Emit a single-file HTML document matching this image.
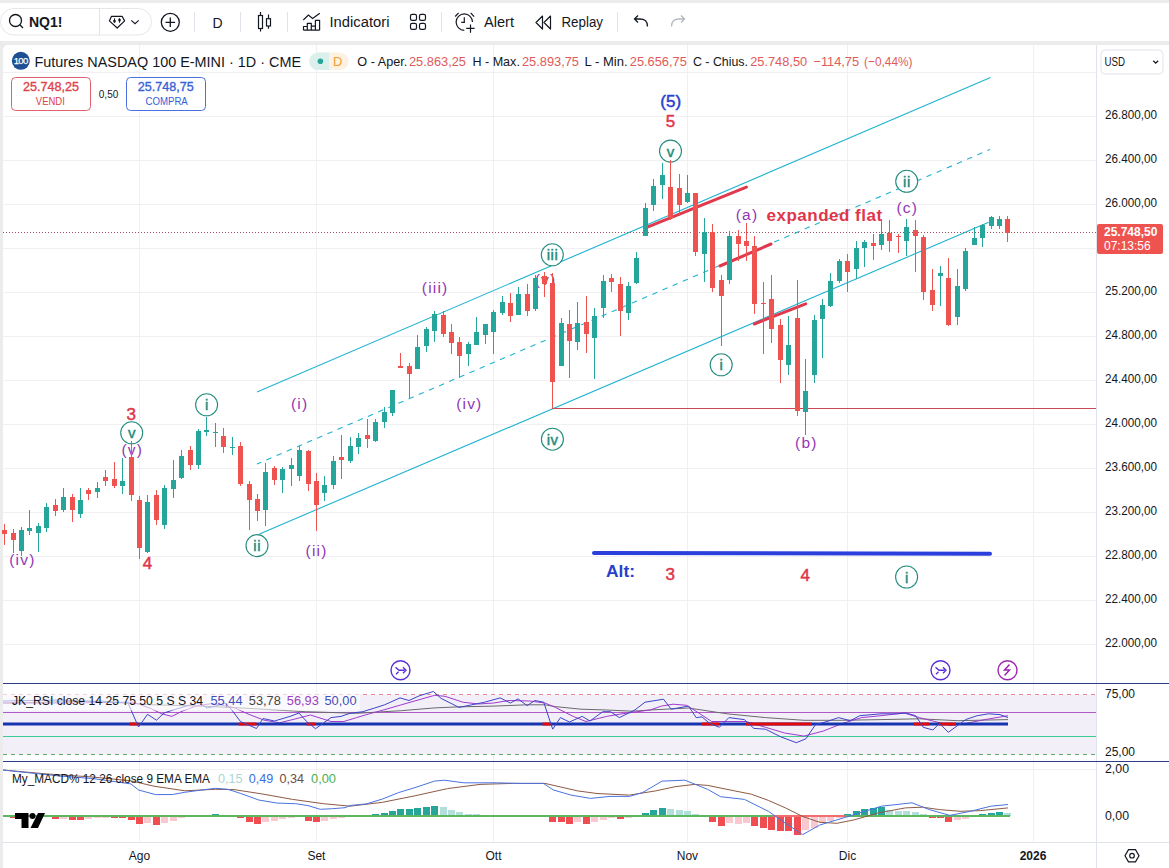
<!DOCTYPE html><html><head><meta charset="utf-8"><style>
html,body{margin:0;padding:0;width:1169px;height:868px;overflow:hidden;background:#ececec;}
svg{position:absolute;left:0;top:0;display:block;}
text{font-family:"Liberation Sans", sans-serif;}
</style></head><body>
<svg width="1169" height="868" viewBox="0 0 1169 868">
<rect x="0" y="0" width="1169" height="868" fill="#ececec"/>
<rect x="0" y="3" width="1169" height="38" fill="#ffffff"/>
<rect x="3" y="45" width="1166" height="833" rx="5" fill="#ffffff"/>
<rect x="0.5" y="8.5" width="151" height="26.5" rx="13.25" fill="#ffffff" stroke="#e6e6e6" stroke-width="1"/>
<line x1="99.5" y1="8" x2="99.5" y2="35" stroke="#e0e3eb"/>
<circle cx="15.5" cy="20.5" r="6" fill="none" stroke="#131722" stroke-width="1.3"/>
<line x1="19.8" y1="24.8" x2="23" y2="28" stroke="#131722" stroke-width="1.3"/>
<text x="29" y="27" font-size="14" font-weight="bold" fill="#131722">NQ1!</text>
<path d="M111.5 16.3 L122.1 16.3 L124.6 20.9 L117.2 28 L109.4 20.9 Z" fill="none" stroke="#131722" stroke-width="1.2" stroke-linejoin="round"/>
<path d="M114.5 18.2 v4.6 M119.5 18.2 v4.6" stroke="#131722" stroke-width="0.9"/><ellipse cx="114.5" cy="21" rx="1.3" ry="1.5" fill="#131722"/><ellipse cx="119.5" cy="20" rx="1.3" ry="1.5" fill="#131722"/>
<path d="M131.3 20.3 l3.7 3.4 l3.7 -3.4" fill="none" stroke="#131722" stroke-width="1.1"/>
<circle cx="170.3" cy="22.3" r="9" fill="none" stroke="#131722" stroke-width="1.3"/>
<path d="M170.3 17.5 v9.6 M165.5 22.3 h9.6" stroke="#131722" stroke-width="1.3"/>
<line x1="194.5" y1="12" x2="194.5" y2="32" stroke="#e0e3eb"/>
<line x1="240.5" y1="12" x2="240.5" y2="32" stroke="#e0e3eb"/>
<line x1="287.5" y1="12" x2="287.5" y2="32" stroke="#e0e3eb"/>
<line x1="441.5" y1="12" x2="441.5" y2="32" stroke="#e0e3eb"/>
<line x1="617.5" y1="12" x2="617.5" y2="32" stroke="#e0e3eb"/>
<text x="217.5" y="27.5" font-size="14" fill="#131722" text-anchor="middle">D</text>
<path d="M260.5 12 v3.5 M260.5 28.5 v3 M268.5 14.5 v4.2 M268.5 26 v2.8" stroke="#131722" stroke-width="1.2"/>
<rect x="258.5" y="15.5" width="4" height="13" fill="none" stroke="#131722" stroke-width="1.2"/>
<rect x="266.5" y="18.7" width="4" height="7.3" fill="none" stroke="#131722" stroke-width="1.2"/>
<path d="M303.3 20 L308.4 15 L312.6 18.5 L319.8 13.2" fill="none" stroke="#131722" stroke-width="1.2"/>
<path d="M303.5 30.2 V26.5 H307.3 V30.2 M307.3 30.2 V23.4 H311.3 V30.2 M311.3 30.2 V26.1 H315.4 V30.2 M315.4 30.2 V20.3 H319.6 V30.2 M303.5 30.2 H319.6" fill="none" stroke="#131722" stroke-width="1.2" stroke-linejoin="round"/>
<text x="329.5" y="27" font-size="14" fill="#131722" textLength="60" lengthAdjust="spacingAndGlyphs">Indicatori</text>
<rect x="410.5" y="14.4" width="6" height="6" rx="1.6" fill="none" stroke="#131722" stroke-width="1.2"/>
<rect x="419.5" y="14.4" width="6" height="6" rx="1.6" fill="none" stroke="#131722" stroke-width="1.2"/>
<rect x="410.5" y="23.3" width="6" height="6" rx="1.6" fill="none" stroke="#131722" stroke-width="1.2"/>
<rect x="419.5" y="23.3" width="6" height="6" rx="1.6" fill="none" stroke="#131722" stroke-width="1.2"/>
<path d="M464.3 30.3 A8.2 8.2 0 1 1 472.5 22.1" fill="none" stroke="#131722" stroke-width="1.2"/>
<path d="M464.3 17.3 v5.1 h-3 M455.2 16.5 l3.4 -3.7 M470.7 12.8 l3.4 3.8 M470.5 24.5 v8.2 M466.2 28.3 h8.4" fill="none" stroke="#131722" stroke-width="1.2"/>
<text x="484" y="27" font-size="14" fill="#131722" textLength="30" lengthAdjust="spacingAndGlyphs">Alert</text>
<path d="M542.5 16 l-6.5 6.5 l6.5 6.5 Z M550.5 16 l-6.5 6.5 l6.5 6.5 Z" fill="none" stroke="#131722" stroke-width="1.2" stroke-linejoin="round"/>
<text x="561.5" y="27" font-size="14" fill="#131722" textLength="41.5" lengthAdjust="spacingAndGlyphs">Replay</text>
<path d="M647.5 26.5 c0 -6 -3 -7.5 -8 -7.5 h-5 M638 15.5 l-3.5 3.5 l3.5 3.5" fill="none" stroke="#131722" stroke-width="1.3"/>
<path d="M671.5 26.5 c0 -6 3 -7.5 8 -7.5 h5 M681 15.5 l3.5 3.5 l-3.5 3.5" fill="none" stroke="#b2b5be" stroke-width="1.3"/>
<line x1="3" y1="72.5" x2="1096" y2="72.5" stroke="#f0f0f3"/>
<line x1="3" y1="116.5" x2="1096" y2="116.5" stroke="#f0f0f3"/>
<line x1="3" y1="160.5" x2="1096" y2="160.5" stroke="#f0f0f3"/>
<line x1="3" y1="204.5" x2="1096" y2="204.5" stroke="#f0f0f3"/>
<line x1="3" y1="248.5" x2="1096" y2="248.5" stroke="#f0f0f3"/>
<line x1="3" y1="292.5" x2="1096" y2="292.5" stroke="#f0f0f3"/>
<line x1="3" y1="336.5" x2="1096" y2="336.5" stroke="#f0f0f3"/>
<line x1="3" y1="380.5" x2="1096" y2="380.5" stroke="#f0f0f3"/>
<line x1="3" y1="424.5" x2="1096" y2="424.5" stroke="#f0f0f3"/>
<line x1="3" y1="468.5" x2="1096" y2="468.5" stroke="#f0f0f3"/>
<line x1="3" y1="512.5" x2="1096" y2="512.5" stroke="#f0f0f3"/>
<line x1="3" y1="556.5" x2="1096" y2="556.5" stroke="#f0f0f3"/>
<line x1="3" y1="600.5" x2="1096" y2="600.5" stroke="#f0f0f3"/>
<line x1="3" y1="644.5" x2="1096" y2="644.5" stroke="#f0f0f3"/>
<line x1="139.5" y1="45" x2="139.5" y2="842" stroke="#f0f0f3"/>
<line x1="316.5" y1="45" x2="316.5" y2="842" stroke="#f0f0f3"/>
<line x1="493.5" y1="45" x2="493.5" y2="842" stroke="#f0f0f3"/>
<line x1="687.5" y1="45" x2="687.5" y2="842" stroke="#f0f0f3"/>
<line x1="847.5" y1="45" x2="847.5" y2="842" stroke="#f0f0f3"/>
<line x1="1033.5" y1="45" x2="1033.5" y2="842" stroke="#f0f0f3"/>
<line x1="3" y1="769.5" x2="1096" y2="769.5" stroke="#f0f0f3"/>
<rect x="3" y="694.5" width="1093" height="60" fill="#f2eff9"/>
<line x1="257" y1="392" x2="990.5" y2="77.5" stroke="#1fb3d2" stroke-width="1.1"/>
<line x1="259.5" y1="534" x2="988.7" y2="222.3" stroke="#1fb3d2" stroke-width="1.1"/>
<line x1="257" y1="464" x2="990" y2="149.5" stroke="#1fb3d2" stroke-width="1.1" stroke-dasharray="5.5,5.55" stroke-dashoffset="0.8"/>
<line x1="552" y1="408.5" x2="1096" y2="408.5" stroke="#c84a55" stroke-width="1"/>
<line x1="3" y1="232.5" x2="1096" y2="232.5" stroke="#a04e5c" stroke-width="1" stroke-dasharray="1,2"/>
<line x1="647.3" y1="227.2" x2="746.4" y2="187.1" stroke="#e0394d" stroke-width="3" stroke-linecap="round"/>
<line x1="719.9" y1="266.0" x2="771.0" y2="244.0" stroke="#e0394d" stroke-width="3" stroke-linecap="round"/>
<line x1="754.3" y1="324.0" x2="805.7" y2="303.8" stroke="#e0394d" stroke-width="3" stroke-linecap="round"/>
<line x1="594" y1="553" x2="990" y2="553.8" stroke="#2a3fdc" stroke-width="4" stroke-linecap="round"/>
<text x="670.7" y="106.5" font-size="17"  fill="#2a3fcc" stroke="#2a3fcc" stroke-width="0.5" text-anchor="middle">(5)</text>
<text x="670.4" y="126.8" font-size="17"  fill="#e0364b" stroke="#e0364b" stroke-width="0.5" text-anchor="middle">5</text>
<circle cx="670.5" cy="151.1" r="11" fill="#ffffff" stroke="#238c7d" stroke-width="1.1"/>
<text x="670.8" y="156.6" font-size="15" fill="#238c7d" stroke="#238c7d" stroke-width="0.45" text-anchor="middle" letter-spacing="0.6">v</text>
<text x="131.2" y="419.5" font-size="17"  fill="#e0364b" stroke="#e0364b" stroke-width="0.5" text-anchor="middle">3</text>
<circle cx="131.7" cy="432.8" r="11" fill="#ffffff" stroke="#238c7d" stroke-width="1.1"/>
<text x="132.0" y="438.3" font-size="15" fill="#238c7d" stroke="#238c7d" stroke-width="0.45" text-anchor="middle" letter-spacing="0.6">v</text>
<text x="132.3" y="455.0" font-size="15.5" fill="#9038b5" text-anchor="middle" letter-spacing="1.2">(v)</text>
<text x="147.6" y="568.5" font-size="17"  fill="#e0364b" stroke="#e0364b" stroke-width="0.5" text-anchor="middle">4</text>
<circle cx="206.6" cy="404.8" r="11" fill="#ffffff" stroke="#238c7d" stroke-width="1.1"/>
<text x="206.9" y="410.3" font-size="15" fill="#238c7d" stroke="#238c7d" stroke-width="0.45" text-anchor="middle" letter-spacing="0.6">i</text>
<text x="299.6" y="409.0" font-size="15.5" fill="#9038b5" text-anchor="middle" letter-spacing="1.2">(i)</text>
<circle cx="257.0" cy="545.6" r="11" fill="#ffffff" stroke="#238c7d" stroke-width="1.1"/>
<text x="257.3" y="551.1" font-size="15" fill="#238c7d" stroke="#238c7d" stroke-width="0.45" text-anchor="middle" letter-spacing="0.6">ii</text>
<text x="316.6" y="556.3" font-size="15.5" fill="#9038b5" text-anchor="middle" letter-spacing="1.2">(ii)</text>
<text x="435.1" y="293.0" font-size="15.5" fill="#9038b5" text-anchor="middle" letter-spacing="1.2">(iii)</text>
<text x="469.3" y="409.0" font-size="15.5" fill="#9038b5" text-anchor="middle" letter-spacing="1.2">(iv)</text>
<text x="22.4" y="565.0" font-size="15.5" fill="#9038b5" text-anchor="middle" letter-spacing="1.2">(iv)</text>
<circle cx="552.3" cy="254.8" r="11" fill="#ffffff" stroke="#238c7d" stroke-width="1.1"/>
<text x="552.6" y="260.3" font-size="15" fill="#238c7d" stroke="#238c7d" stroke-width="0.45" text-anchor="middle" letter-spacing="0.6">iii</text>
<circle cx="552.4" cy="439.2" r="11" fill="#ffffff" stroke="#238c7d" stroke-width="1.1"/>
<text x="552.7" y="444.7" font-size="15" fill="#238c7d" stroke="#238c7d" stroke-width="0.45" text-anchor="middle" letter-spacing="0.6">iv</text>
<circle cx="721.2" cy="364.8" r="11" fill="#ffffff" stroke="#238c7d" stroke-width="1.1"/>
<text x="721.5" y="370.3" font-size="15" fill="#238c7d" stroke="#238c7d" stroke-width="0.45" text-anchor="middle" letter-spacing="0.6">i</text>
<text x="747.0" y="219.5" font-size="15.5" fill="#9038b5" text-anchor="middle" letter-spacing="1.2">(a)</text>
<text x="766.5" y="221.3" font-size="17" font-weight="bold" letter-spacing="0.5" fill="#e0364b">expanded flat</text>
<circle cx="906.7" cy="181.3" r="11" fill="#ffffff" stroke="#238c7d" stroke-width="1.1"/>
<text x="907.0" y="186.8" font-size="15" fill="#238c7d" stroke="#238c7d" stroke-width="0.45" text-anchor="middle" letter-spacing="0.6">ii</text>
<text x="907.3" y="213.0" font-size="15.5" fill="#9038b5" text-anchor="middle" letter-spacing="1.2">(c)</text>
<text x="806.3" y="447.5" font-size="15.5" fill="#9038b5" text-anchor="middle" letter-spacing="1.2">(b)</text>
<text x="606" y="577" font-size="17" font-weight="bold" fill="#2a3fcc" textLength="29" lengthAdjust="spacingAndGlyphs">Alt:</text>
<text x="670.3" y="579.5" font-size="17"  fill="#e0364b" stroke="#e0364b" stroke-width="0.5" text-anchor="middle">3</text>
<text x="805.2" y="581.0" font-size="17"  fill="#e0364b" stroke="#e0364b" stroke-width="0.5" text-anchor="middle">4</text>
<circle cx="906.6" cy="577.0" r="11" fill="#ffffff" stroke="#238c7d" stroke-width="1.1"/>
<text x="906.9" y="582.5" font-size="15" fill="#238c7d" stroke="#238c7d" stroke-width="0.45" text-anchor="middle" letter-spacing="0.6">i</text>
<text x="545.6" y="285.0" font-size="15.5" fill="#9038b5" text-anchor="middle" letter-spacing="1.2">(v)</text>
<g shape-rendering="crispEdges">
<rect x="4" y="524" width="1" height="21" fill="#ef5350"/>
<rect x="2" y="530" width="5" height="4" fill="#ef5350"/>
<rect x="13" y="529" width="1" height="24" fill="#ef5350"/>
<rect x="11" y="533" width="5" height="7" fill="#ef5350"/>
<rect x="21" y="527" width="1" height="29" fill="#26a69a"/>
<rect x="19" y="530" width="5" height="21" fill="#26a69a"/>
<rect x="29" y="510" width="1" height="25" fill="#26a69a"/>
<rect x="27" y="528" width="5" height="3" fill="#26a69a"/>
<rect x="38" y="523" width="1" height="29" fill="#26a69a"/>
<rect x="36" y="526" width="5" height="7" fill="#26a69a"/>
<rect x="46" y="503" width="1" height="29" fill="#26a69a"/>
<rect x="44" y="507" width="5" height="21" fill="#26a69a"/>
<rect x="55" y="499" width="1" height="17" fill="#ef5350"/>
<rect x="53" y="505" width="5" height="6" fill="#ef5350"/>
<rect x="63" y="488" width="1" height="24" fill="#26a69a"/>
<rect x="61" y="497" width="5" height="13" fill="#26a69a"/>
<rect x="72" y="494" width="1" height="28" fill="#ef5350"/>
<rect x="70" y="497" width="5" height="13" fill="#ef5350"/>
<rect x="80" y="488" width="1" height="30" fill="#26a69a"/>
<rect x="78" y="500" width="5" height="14" fill="#26a69a"/>
<rect x="88" y="488" width="1" height="12" fill="#ef5350"/>
<rect x="86" y="490" width="5" height="4" fill="#ef5350"/>
<rect x="97" y="482" width="1" height="16" fill="#26a69a"/>
<rect x="95" y="488" width="5" height="4" fill="#26a69a"/>
<rect x="105" y="470" width="1" height="16" fill="#ef5350"/>
<rect x="103" y="477" width="5" height="4" fill="#ef5350"/>
<rect x="114" y="462" width="1" height="26" fill="#ef5350"/>
<rect x="112" y="479" width="5" height="7" fill="#ef5350"/>
<rect x="122" y="458" width="1" height="36" fill="#26a69a"/>
<rect x="120" y="481" width="5" height="5" fill="#26a69a"/>
<rect x="131" y="441" width="1" height="60" fill="#ef5350"/>
<rect x="129" y="457" width="5" height="38" fill="#ef5350"/>
<rect x="139" y="496" width="1" height="63" fill="#ef5350"/>
<rect x="137" y="500" width="5" height="48" fill="#ef5350"/>
<rect x="147" y="495" width="1" height="58" fill="#26a69a"/>
<rect x="145" y="502" width="5" height="50" fill="#26a69a"/>
<rect x="156" y="490" width="1" height="35" fill="#ef5350"/>
<rect x="154" y="495" width="5" height="25" fill="#ef5350"/>
<rect x="164" y="485" width="1" height="44" fill="#26a69a"/>
<rect x="162" y="488" width="5" height="37" fill="#26a69a"/>
<rect x="173" y="460" width="1" height="38" fill="#26a69a"/>
<rect x="171" y="480" width="5" height="9" fill="#26a69a"/>
<rect x="181" y="450" width="1" height="29" fill="#26a69a"/>
<rect x="179" y="456" width="5" height="22" fill="#26a69a"/>
<rect x="190" y="446" width="1" height="24" fill="#ef5350"/>
<rect x="188" y="450" width="5" height="15" fill="#ef5350"/>
<rect x="198" y="429" width="1" height="40" fill="#26a69a"/>
<rect x="196" y="431" width="5" height="34" fill="#26a69a"/>
<rect x="206" y="417" width="1" height="19" fill="#26a69a"/>
<rect x="204" y="430" width="5" height="2" fill="#26a69a"/>
<rect x="215" y="423" width="1" height="24" fill="#26a69a"/>
<rect x="213" y="432" width="5" height="1" fill="#26a69a"/>
<rect x="223" y="428" width="1" height="25" fill="#ef5350"/>
<rect x="221" y="436" width="5" height="11" fill="#ef5350"/>
<rect x="232" y="437" width="1" height="18" fill="#26a69a"/>
<rect x="230" y="447" width="5" height="1" fill="#26a69a"/>
<rect x="240" y="442" width="1" height="44" fill="#ef5350"/>
<rect x="238" y="446" width="5" height="38" fill="#ef5350"/>
<rect x="249" y="481" width="1" height="49" fill="#ef5350"/>
<rect x="247" y="484" width="5" height="16" fill="#ef5350"/>
<rect x="257" y="494" width="1" height="27" fill="#ef5350"/>
<rect x="255" y="499" width="5" height="12" fill="#ef5350"/>
<rect x="265" y="463" width="1" height="63" fill="#26a69a"/>
<rect x="263" y="472" width="5" height="38" fill="#26a69a"/>
<rect x="274" y="466" width="1" height="19" fill="#ef5350"/>
<rect x="272" y="468" width="5" height="12" fill="#ef5350"/>
<rect x="282" y="467" width="1" height="26" fill="#26a69a"/>
<rect x="280" y="469" width="5" height="11" fill="#26a69a"/>
<rect x="291" y="458" width="1" height="28" fill="#26a69a"/>
<rect x="289" y="465" width="5" height="4" fill="#26a69a"/>
<rect x="299" y="446" width="1" height="35" fill="#26a69a"/>
<rect x="297" y="450" width="5" height="26" fill="#26a69a"/>
<rect x="308" y="450" width="1" height="41" fill="#ef5350"/>
<rect x="306" y="451" width="5" height="33" fill="#ef5350"/>
<rect x="316" y="473" width="1" height="58" fill="#ef5350"/>
<rect x="314" y="481" width="5" height="24" fill="#ef5350"/>
<rect x="324" y="476" width="1" height="25" fill="#26a69a"/>
<rect x="322" y="485" width="5" height="8" fill="#26a69a"/>
<rect x="333" y="456" width="1" height="33" fill="#26a69a"/>
<rect x="331" y="461" width="5" height="24" fill="#26a69a"/>
<rect x="341" y="435" width="1" height="44" fill="#ef5350"/>
<rect x="339" y="457" width="5" height="3" fill="#ef5350"/>
<rect x="350" y="437" width="1" height="26" fill="#26a69a"/>
<rect x="348" y="446" width="5" height="15" fill="#26a69a"/>
<rect x="358" y="433" width="1" height="21" fill="#26a69a"/>
<rect x="356" y="438" width="5" height="9" fill="#26a69a"/>
<rect x="367" y="419" width="1" height="29" fill="#ef5350"/>
<rect x="365" y="435" width="5" height="4" fill="#ef5350"/>
<rect x="375" y="419" width="1" height="23" fill="#26a69a"/>
<rect x="373" y="422" width="5" height="19" fill="#26a69a"/>
<rect x="384" y="407" width="1" height="21" fill="#26a69a"/>
<rect x="382" y="412" width="5" height="10" fill="#26a69a"/>
<rect x="392" y="390" width="1" height="26" fill="#26a69a"/>
<rect x="390" y="390" width="5" height="23" fill="#26a69a"/>
<rect x="400" y="353" width="1" height="15" fill="#ef5350"/>
<rect x="398" y="366" width="5" height="2" fill="#ef5350"/>
<rect x="409" y="363" width="1" height="35" fill="#ef5350"/>
<rect x="407" y="366" width="5" height="8" fill="#ef5350"/>
<rect x="417" y="335" width="1" height="34" fill="#26a69a"/>
<rect x="415" y="347" width="5" height="22" fill="#26a69a"/>
<rect x="426" y="327" width="1" height="25" fill="#26a69a"/>
<rect x="424" y="329" width="5" height="17" fill="#26a69a"/>
<rect x="434" y="311" width="1" height="31" fill="#26a69a"/>
<rect x="432" y="314" width="5" height="17" fill="#26a69a"/>
<rect x="443" y="311" width="1" height="26" fill="#ef5350"/>
<rect x="441" y="315" width="5" height="19" fill="#ef5350"/>
<rect x="451" y="324" width="1" height="30" fill="#ef5350"/>
<rect x="449" y="332" width="5" height="11" fill="#ef5350"/>
<rect x="459" y="337" width="1" height="41" fill="#ef5350"/>
<rect x="457" y="342" width="5" height="14" fill="#ef5350"/>
<rect x="468" y="342" width="1" height="24" fill="#26a69a"/>
<rect x="466" y="344" width="5" height="10" fill="#26a69a"/>
<rect x="476" y="317" width="1" height="28" fill="#26a69a"/>
<rect x="474" y="332" width="5" height="13" fill="#26a69a"/>
<rect x="485" y="324" width="1" height="20" fill="#26a69a"/>
<rect x="483" y="324" width="5" height="11" fill="#26a69a"/>
<rect x="493" y="310" width="1" height="44" fill="#26a69a"/>
<rect x="491" y="312" width="5" height="20" fill="#26a69a"/>
<rect x="502" y="296" width="1" height="19" fill="#26a69a"/>
<rect x="500" y="302" width="5" height="11" fill="#26a69a"/>
<rect x="510" y="293" width="1" height="29" fill="#ef5350"/>
<rect x="508" y="303" width="5" height="13" fill="#ef5350"/>
<rect x="518" y="287" width="1" height="27" fill="#26a69a"/>
<rect x="516" y="294" width="5" height="21" fill="#26a69a"/>
<rect x="527" y="284" width="1" height="32" fill="#ef5350"/>
<rect x="525" y="294" width="5" height="17" fill="#ef5350"/>
<rect x="535" y="275" width="1" height="36" fill="#26a69a"/>
<rect x="533" y="278" width="5" height="31" fill="#26a69a"/>
<rect x="544" y="272" width="1" height="25" fill="#ef5350"/>
<rect x="542" y="276" width="5" height="8" fill="#ef5350"/>
<rect x="552" y="273" width="1" height="135" fill="#ef5350"/>
<rect x="550" y="283" width="5" height="99" fill="#ef5350"/>
<rect x="561" y="318" width="1" height="48" fill="#26a69a"/>
<rect x="559" y="323" width="5" height="43" fill="#26a69a"/>
<rect x="569" y="310" width="1" height="68" fill="#ef5350"/>
<rect x="567" y="324" width="5" height="17" fill="#ef5350"/>
<rect x="577" y="302" width="1" height="48" fill="#26a69a"/>
<rect x="575" y="323" width="5" height="19" fill="#26a69a"/>
<rect x="586" y="296" width="1" height="57" fill="#ef5350"/>
<rect x="584" y="322" width="5" height="12" fill="#ef5350"/>
<rect x="594" y="308" width="1" height="71" fill="#26a69a"/>
<rect x="592" y="316" width="5" height="22" fill="#26a69a"/>
<rect x="603" y="275" width="1" height="43" fill="#26a69a"/>
<rect x="601" y="281" width="5" height="27" fill="#26a69a"/>
<rect x="611" y="274" width="1" height="18" fill="#ef5350"/>
<rect x="609" y="278" width="5" height="4" fill="#ef5350"/>
<rect x="620" y="277" width="1" height="59" fill="#ef5350"/>
<rect x="618" y="284" width="5" height="27" fill="#ef5350"/>
<rect x="628" y="282" width="1" height="38" fill="#26a69a"/>
<rect x="626" y="286" width="5" height="27" fill="#26a69a"/>
<rect x="636" y="252" width="1" height="32" fill="#26a69a"/>
<rect x="634" y="258" width="5" height="25" fill="#26a69a"/>
<rect x="645" y="203" width="1" height="33" fill="#26a69a"/>
<rect x="643" y="208" width="5" height="28" fill="#26a69a"/>
<rect x="653" y="179" width="1" height="32" fill="#26a69a"/>
<rect x="651" y="186" width="5" height="19" fill="#26a69a"/>
<rect x="662" y="163" width="1" height="36" fill="#26a69a"/>
<rect x="660" y="175" width="5" height="10" fill="#26a69a"/>
<rect x="670" y="160" width="1" height="60" fill="#ef5350"/>
<rect x="668" y="187" width="5" height="31" fill="#ef5350"/>
<rect x="679" y="174" width="1" height="42" fill="#ef5350"/>
<rect x="677" y="188" width="5" height="17" fill="#ef5350"/>
<rect x="687" y="175" width="1" height="28" fill="#26a69a"/>
<rect x="685" y="193" width="5" height="9" fill="#26a69a"/>
<rect x="695" y="193" width="1" height="63" fill="#ef5350"/>
<rect x="693" y="193" width="5" height="59" fill="#ef5350"/>
<rect x="704" y="218" width="1" height="64" fill="#26a69a"/>
<rect x="702" y="232" width="5" height="22" fill="#26a69a"/>
<rect x="712" y="224" width="1" height="68" fill="#ef5350"/>
<rect x="710" y="232" width="5" height="56" fill="#ef5350"/>
<rect x="721" y="275" width="1" height="71" fill="#ef5350"/>
<rect x="719" y="280" width="5" height="16" fill="#ef5350"/>
<rect x="729" y="231" width="1" height="53" fill="#26a69a"/>
<rect x="727" y="236" width="5" height="44" fill="#26a69a"/>
<rect x="738" y="230" width="1" height="31" fill="#ef5350"/>
<rect x="736" y="236" width="5" height="8" fill="#ef5350"/>
<rect x="746" y="223" width="1" height="38" fill="#ef5350"/>
<rect x="744" y="241" width="5" height="5" fill="#ef5350"/>
<rect x="754" y="236" width="1" height="78" fill="#ef5350"/>
<rect x="752" y="246" width="5" height="58" fill="#ef5350"/>
<rect x="763" y="282" width="1" height="72" fill="#ef5350"/>
<rect x="761" y="303" width="5" height="1" fill="#ef5350"/>
<rect x="771" y="275" width="1" height="68" fill="#ef5350"/>
<rect x="769" y="299" width="5" height="30" fill="#ef5350"/>
<rect x="780" y="319" width="1" height="64" fill="#ef5350"/>
<rect x="778" y="325" width="5" height="35" fill="#ef5350"/>
<rect x="788" y="316" width="1" height="59" fill="#26a69a"/>
<rect x="786" y="345" width="5" height="20" fill="#26a69a"/>
<rect x="797" y="280" width="1" height="136" fill="#ef5350"/>
<rect x="795" y="318" width="5" height="93" fill="#ef5350"/>
<rect x="805" y="359" width="1" height="76" fill="#26a69a"/>
<rect x="803" y="391" width="5" height="21" fill="#26a69a"/>
<rect x="814" y="315" width="1" height="68" fill="#26a69a"/>
<rect x="812" y="320" width="5" height="55" fill="#26a69a"/>
<rect x="822" y="299" width="1" height="59" fill="#26a69a"/>
<rect x="820" y="305" width="5" height="14" fill="#26a69a"/>
<rect x="830" y="273" width="1" height="34" fill="#26a69a"/>
<rect x="828" y="281" width="5" height="25" fill="#26a69a"/>
<rect x="839" y="259" width="1" height="24" fill="#26a69a"/>
<rect x="837" y="261" width="5" height="20" fill="#26a69a"/>
<rect x="847" y="254" width="1" height="38" fill="#ef5350"/>
<rect x="845" y="261" width="5" height="11" fill="#ef5350"/>
<rect x="856" y="241" width="1" height="38" fill="#26a69a"/>
<rect x="854" y="248" width="5" height="21" fill="#26a69a"/>
<rect x="864" y="240" width="1" height="27" fill="#26a69a"/>
<rect x="862" y="242" width="5" height="6" fill="#26a69a"/>
<rect x="873" y="234" width="1" height="26" fill="#ef5350"/>
<rect x="871" y="243" width="5" height="3" fill="#ef5350"/>
<rect x="881" y="219" width="1" height="31" fill="#26a69a"/>
<rect x="879" y="234" width="5" height="11" fill="#26a69a"/>
<rect x="889" y="220" width="1" height="32" fill="#ef5350"/>
<rect x="887" y="233" width="5" height="8" fill="#ef5350"/>
<rect x="898" y="234" width="1" height="19" fill="#ef5350"/>
<rect x="896" y="236" width="5" height="1" fill="#ef5350"/>
<rect x="906" y="219" width="1" height="37" fill="#26a69a"/>
<rect x="904" y="227" width="5" height="14" fill="#26a69a"/>
<rect x="915" y="220" width="1" height="52" fill="#ef5350"/>
<rect x="913" y="230" width="5" height="6" fill="#ef5350"/>
<rect x="923" y="235" width="1" height="65" fill="#ef5350"/>
<rect x="921" y="237" width="5" height="55" fill="#ef5350"/>
<rect x="932" y="269" width="1" height="42" fill="#ef5350"/>
<rect x="930" y="290" width="5" height="15" fill="#ef5350"/>
<rect x="940" y="266" width="1" height="40" fill="#26a69a"/>
<rect x="938" y="273" width="5" height="3" fill="#26a69a"/>
<rect x="948" y="258" width="1" height="68" fill="#ef5350"/>
<rect x="946" y="278" width="5" height="47" fill="#ef5350"/>
<rect x="957" y="269" width="1" height="56" fill="#26a69a"/>
<rect x="955" y="286" width="5" height="31" fill="#26a69a"/>
<rect x="965" y="248" width="1" height="43" fill="#26a69a"/>
<rect x="963" y="251" width="5" height="38" fill="#26a69a"/>
<rect x="974" y="227" width="1" height="18" fill="#26a69a"/>
<rect x="972" y="238" width="5" height="7" fill="#26a69a"/>
<rect x="982" y="224" width="1" height="23" fill="#26a69a"/>
<rect x="980" y="225" width="5" height="13" fill="#26a69a"/>
<rect x="991" y="216" width="1" height="13" fill="#26a69a"/>
<rect x="989" y="217" width="5" height="9" fill="#26a69a"/>
<rect x="999" y="216" width="1" height="13" fill="#26a69a"/>
<rect x="997" y="219" width="5" height="7" fill="#26a69a"/>
<rect x="1007" y="216" width="1" height="26" fill="#ef5350"/>
<rect x="1005" y="219" width="5" height="14" fill="#ef5350"/>
</g>
<circle cx="400.5" cy="670.3" r="9.5" fill="none" stroke="#5a2fd6" stroke-width="1.4"/>
<path d="M395.5 667.3 l3.5 3 h5.5 M403.0 667.3 l3 3 l-3 3 M398.5 671.8 l-2.5 2.5" fill="none" stroke="#5a2fd6" stroke-width="1.4"/>
<circle cx="940.5" cy="670.2" r="9.5" fill="none" stroke="#5a2fd6" stroke-width="1.4"/>
<path d="M935.5 667.2 l3.5 3 h5.5 M943.0 667.2 l3 3 l-3 3 M938.5 671.7 l-2.5 2.5" fill="none" stroke="#5a2fd6" stroke-width="1.4"/>
<circle cx="1007.5" cy="670.2" r="9.5" fill="none" stroke="#9c27b0" stroke-width="1.4"/>
<path d="M1009.5 664.5 l-5 5.5 h5 l-5 5.5" fill="none" stroke="#9c27b0" stroke-width="1.5"/>
<line x1="3" y1="683.5" x2="1169" y2="683.5" stroke="#2d3e8c" stroke-width="1.2"/>
<line x1="3" y1="761.5" x2="1169" y2="761.5" stroke="#2d3e8c" stroke-width="1.2"/>
<line x1="3" y1="694.5" x2="1096" y2="694.5" stroke="#f08a8e" stroke-dasharray="4,4"/>
<line x1="3" y1="754.5" x2="1096" y2="754.5" stroke="#5cad6a" stroke-dasharray="4,4"/>
<line x1="3" y1="712.5" x2="1096" y2="712.5" stroke="#b05ac8" stroke-width="1"/>
<line x1="3" y1="736.5" x2="1096" y2="736.5" stroke="#3ccf95" stroke-width="1"/>
<polyline points="3.0,703.0 100.0,701.0 151.3,704.8 202.6,706.1 254.0,708.7 305.3,711.7 356.6,713.3 401.3,710.7 434.7,707.9 457.8,706.9 493.7,706.1 527.0,704.8 545.0,704.8 555.3,706.6 581.0,709.2 606.6,710.0 632.3,711.2 650.0,710.0 688.5,708.0 727.0,713.8 765.5,717.6 804.0,720.3 842.5,720.3 881.0,719.6 919.4,718.8 957.9,720.7 1008.0,719.6" fill="none" stroke="#6a6a6a" stroke-width="1"/>
<polyline points="3.0,703.0 60.0,703.0 133.4,702.2 151.3,708.7 161.6,713.8 171.9,716.4 182.1,711.2 197.5,705.6 212.9,703.5 233.4,707.4 248.8,714.3 264.2,720.2 279.6,722.8 295.0,719.0 310.4,715.0 331.0,721.5 343.8,721.5 356.6,717.6 369.4,713.8 383.4,710.0 401.3,704.8 434.7,695.3 445.0,696.3 462.9,702.2 478.3,704.0 493.7,703.0 509.0,700.5 529.6,701.0 545.0,703.0 555.3,707.4 573.2,716.4 586.0,721.5 606.6,716.4 622.0,713.8 650.0,710.0 661.5,706.1 673.0,704.2 686.6,705.3 700.0,713.8 711.6,721.5 727.0,721.5 746.2,721.5 765.5,727.3 784.7,733.0 804.0,736.1 823.2,731.1 842.5,723.4 861.7,717.6 881.0,715.7 904.0,713.0 919.4,717.6 934.8,721.5 950.2,725.3 965.6,723.4 984.9,719.6 1008.0,715.7" fill="none" stroke="#a13bcb" stroke-width="1"/>
<line x1="3" y1="724" x2="1008" y2="724" stroke="#1534b0" stroke-width="3"/>
<line x1="129.5" y1="724" x2="138.5" y2="724" stroke="#e00a0a" stroke-width="3"/>
<line x1="238.6" y1="724" x2="256.5" y2="724" stroke="#e00a0a" stroke-width="3"/>
<line x1="306.6" y1="724" x2="315.5" y2="724" stroke="#e00a0a" stroke-width="3"/>
<line x1="542.5" y1="724" x2="551.4" y2="724" stroke="#e00a0a" stroke-width="3"/>
<line x1="702.0" y1="724" x2="719.0" y2="724" stroke="#e00a0a" stroke-width="3"/>
<line x1="746.0" y1="724" x2="812.0" y2="724" stroke="#e00a0a" stroke-width="3"/>
<line x1="913.7" y1="724" x2="929.0" y2="724" stroke="#e00a0a" stroke-width="3"/>
<line x1="938.7" y1="724" x2="956.0" y2="724" stroke="#e00a0a" stroke-width="3"/>
<polyline points="3.0,701.0 60.0,700.0 128.0,703.0 138.5,727.0 147.5,714.3 156.5,720.2 164.0,713.0 173.0,710.0 182.0,707.4 190.0,705.0 199.0,703.0 207.0,708.0 216.0,706.0 225.0,703.0 231.0,709.0 240.5,721.5 256.5,728.5 263.0,718.5 274.5,721.0 290.0,716.4 299.0,713.0 306.6,721.5 315.5,728.7 331.0,717.6 341.0,716.4 350.0,713.3 362.8,711.7 374.4,708.1 384.6,704.8 400.0,697.9 409.0,700.5 419.3,695.8 433.4,691.5 441.1,698.4 459.0,707.4 471.9,704.8 484.7,702.2 500.1,697.9 510.4,703.0 518.1,698.9 527.1,705.6 534.8,700.5 543.7,702.2 552.7,729.2 560.4,717.6 569.4,722.0 582.2,716.4 590.0,721.0 602.8,711.7 610.5,711.7 619.4,717.6 634.8,710.0 645.0,702.2 663.5,699.2 671.2,709.2 688.5,706.1 696.2,717.6 702.0,716.9 709.7,723.4 719.3,727.3 728.9,717.6 744.3,719.6 753.9,728.4 765.5,729.2 780.9,736.9 796.3,742.7 805.9,738.8 815.5,724.6 827.0,721.5 838.6,717.6 850.2,720.7 859.8,715.7 881.0,713.8 896.3,713.8 906.0,713.0 915.6,715.7 923.3,727.3 932.9,730.0 939.5,723.4 948.3,732.3 957.9,725.3 965.6,719.6 977.2,715.7 988.7,713.8 1000.0,714.6 1008.0,717.6" fill="none" stroke="#3d45c8" stroke-width="1"/>
<rect x="3" y="693" width="357" height="17.5" fill="#ffffff" fill-opacity="0.6"/>
<text x="12.0" y="704.8" font-size="12.2" fill="#131722" textLength="191.0" lengthAdjust="spacingAndGlyphs">JK_RSI close 14 25 75 50 5 S S 34</text>
<text x="210.5" y="704.8" font-size="12.2" fill="#3f4fb8" textLength="32.0" lengthAdjust="spacingAndGlyphs">55,44</text>
<text x="248.8" y="704.8" font-size="12.2" fill="#444444" textLength="32.0" lengthAdjust="spacingAndGlyphs">53,78</text>
<text x="286.8" y="704.8" font-size="12.2" fill="#9c3fc0" textLength="32.0" lengthAdjust="spacingAndGlyphs">56,93</text>
<text x="324.5" y="704.8" font-size="12.2" fill="#3f4fb8" textLength="32.0" lengthAdjust="spacingAndGlyphs">50,00</text>
<g shape-rendering="crispEdges">
<rect x="10" y="816" width="7" height="2" fill="#f04d52"/>
<rect x="52" y="816" width="7" height="3" fill="#f04d52"/>
<rect x="60" y="816" width="7" height="3" fill="#fbc8cf"/>
<rect x="69" y="816" width="7" height="4" fill="#f04d52"/>
<rect x="77" y="816" width="7" height="4" fill="#f04d52"/>
<rect x="85" y="816" width="7" height="3" fill="#fbc8cf"/>
<rect x="94" y="816" width="7" height="2" fill="#fbc8cf"/>
<rect x="102" y="816" width="7" height="2" fill="#fbc8cf"/>
<rect x="111" y="816" width="7" height="2" fill="#f04d52"/>
<rect x="119" y="816" width="7" height="2" fill="#f04d52"/>
<rect x="128" y="816" width="7" height="4" fill="#f04d52"/>
<rect x="136" y="816" width="7" height="8" fill="#f04d52"/>
<rect x="144" y="816" width="7" height="7" fill="#fbc8cf"/>
<rect x="153" y="816" width="7" height="9" fill="#f04d52"/>
<rect x="161" y="816" width="7" height="7" fill="#fbc8cf"/>
<rect x="170" y="816" width="7" height="5" fill="#fbc8cf"/>
<rect x="178" y="816" width="7" height="2" fill="#fbc8cf"/>
<rect x="187" y="816" width="7" height="1" fill="#fbc8cf"/>
<rect x="195" y="816" width="7" height="1" fill="#fbc8cf"/>
<rect x="203" y="815" width="7" height="1" fill="#26a69a"/>
<rect x="212" y="814" width="7" height="2" fill="#26a69a"/>
<rect x="220" y="815" width="7" height="1" fill="#26a69a"/>
<rect x="237" y="816" width="7" height="2" fill="#f04d52"/>
<rect x="246" y="816" width="7" height="6" fill="#f04d52"/>
<rect x="254" y="816" width="7" height="8" fill="#f04d52"/>
<rect x="262" y="816" width="7" height="6" fill="#fbc8cf"/>
<rect x="271" y="816" width="7" height="5" fill="#fbc8cf"/>
<rect x="279" y="816" width="7" height="3" fill="#fbc8cf"/>
<rect x="288" y="816" width="7" height="2" fill="#fbc8cf"/>
<rect x="296" y="816" width="7" height="1" fill="#fbc8cf"/>
<rect x="305" y="816" width="7" height="5" fill="#f04d52"/>
<rect x="313" y="816" width="7" height="6" fill="#f04d52"/>
<rect x="321" y="816" width="7" height="5" fill="#fbc8cf"/>
<rect x="330" y="816" width="7" height="3" fill="#fbc8cf"/>
<rect x="338" y="816" width="7" height="2" fill="#fbc8cf"/>
<rect x="347" y="815" width="7" height="1" fill="#b2dfdb"/>
<rect x="355" y="815" width="7" height="1" fill="#b2dfdb"/>
<rect x="364" y="815" width="7" height="1" fill="#26a69a"/>
<rect x="372" y="814" width="7" height="2" fill="#26a69a"/>
<rect x="381" y="813" width="7" height="3" fill="#26a69a"/>
<rect x="389" y="811" width="7" height="5" fill="#26a69a"/>
<rect x="397" y="809" width="7" height="7" fill="#26a69a"/>
<rect x="406" y="809" width="7" height="7" fill="#26a69a"/>
<rect x="414" y="808" width="7" height="8" fill="#26a69a"/>
<rect x="423" y="807" width="7" height="9" fill="#26a69a"/>
<rect x="431" y="806" width="7" height="10" fill="#26a69a"/>
<rect x="440" y="807" width="7" height="9" fill="#b2dfdb"/>
<rect x="448" y="810" width="7" height="6" fill="#b2dfdb"/>
<rect x="456" y="812" width="7" height="4" fill="#b2dfdb"/>
<rect x="465" y="814" width="7" height="2" fill="#b2dfdb"/>
<rect x="473" y="814" width="7" height="2" fill="#b2dfdb"/>
<rect x="482" y="815" width="7" height="1" fill="#b2dfdb"/>
<rect x="490" y="815" width="7" height="1" fill="#26a69a"/>
<rect x="499" y="815" width="7" height="1" fill="#26a69a"/>
<rect x="507" y="815" width="7" height="1" fill="#b2dfdb"/>
<rect x="515" y="815" width="7" height="1" fill="#26a69a"/>
<rect x="524" y="816" width="7" height="1" fill="#f04d52"/>
<rect x="532" y="816" width="7" height="1" fill="#fbc8cf"/>
<rect x="541" y="816" width="7" height="1" fill="#f04d52"/>
<rect x="549" y="816" width="7" height="6" fill="#f04d52"/>
<rect x="558" y="816" width="7" height="6" fill="#f04d52"/>
<rect x="566" y="816" width="7" height="8" fill="#f04d52"/>
<rect x="574" y="816" width="7" height="6" fill="#fbc8cf"/>
<rect x="583" y="816" width="7" height="8" fill="#f04d52"/>
<rect x="591" y="816" width="7" height="6" fill="#fbc8cf"/>
<rect x="600" y="816" width="7" height="4" fill="#fbc8cf"/>
<rect x="608" y="816" width="7" height="2" fill="#fbc8cf"/>
<rect x="617" y="816" width="7" height="3" fill="#f04d52"/>
<rect x="625" y="816" width="7" height="2" fill="#fbc8cf"/>
<rect x="633" y="815" width="7" height="1" fill="#b2dfdb"/>
<rect x="642" y="813" width="7" height="3" fill="#26a69a"/>
<rect x="650" y="810" width="7" height="6" fill="#26a69a"/>
<rect x="659" y="808" width="7" height="8" fill="#26a69a"/>
<rect x="667" y="809" width="7" height="7" fill="#b2dfdb"/>
<rect x="676" y="810" width="7" height="6" fill="#b2dfdb"/>
<rect x="684" y="811" width="7" height="5" fill="#b2dfdb"/>
<rect x="692" y="814" width="7" height="2" fill="#b2dfdb"/>
<rect x="701" y="815" width="7" height="1" fill="#b2dfdb"/>
<rect x="709" y="816" width="7" height="6" fill="#f04d52"/>
<rect x="718" y="816" width="7" height="10" fill="#f04d52"/>
<rect x="726" y="816" width="7" height="7" fill="#fbc8cf"/>
<rect x="735" y="816" width="7" height="8" fill="#fbc8cf"/>
<rect x="743" y="816" width="7" height="7" fill="#fbc8cf"/>
<rect x="751" y="816" width="7" height="10" fill="#f04d52"/>
<rect x="760" y="816" width="7" height="12" fill="#f04d52"/>
<rect x="768" y="816" width="7" height="14" fill="#f04d52"/>
<rect x="777" y="816" width="7" height="15" fill="#f04d52"/>
<rect x="785" y="816" width="7" height="15" fill="#f04d52"/>
<rect x="794" y="816" width="7" height="19" fill="#f04d52"/>
<rect x="802" y="816" width="7" height="14" fill="#fbc8cf"/>
<rect x="811" y="816" width="7" height="12" fill="#fbc8cf"/>
<rect x="819" y="816" width="7" height="7" fill="#fbc8cf"/>
<rect x="827" y="816" width="7" height="5" fill="#fbc8cf"/>
<rect x="836" y="816" width="7" height="2" fill="#fbc8cf"/>
<rect x="844" y="814" width="7" height="2" fill="#26a69a"/>
<rect x="853" y="811" width="7" height="5" fill="#26a69a"/>
<rect x="861" y="809" width="7" height="7" fill="#26a69a"/>
<rect x="870" y="808" width="7" height="8" fill="#26a69a"/>
<rect x="878" y="807" width="7" height="9" fill="#26a69a"/>
<rect x="886" y="810" width="7" height="6" fill="#b2dfdb"/>
<rect x="895" y="811" width="7" height="5" fill="#b2dfdb"/>
<rect x="903" y="811" width="7" height="5" fill="#b2dfdb"/>
<rect x="912" y="812" width="7" height="4" fill="#b2dfdb"/>
<rect x="920" y="814" width="7" height="2" fill="#b2dfdb"/>
<rect x="929" y="816" width="7" height="2" fill="#f04d52"/>
<rect x="937" y="816" width="7" height="2" fill="#f04d52"/>
<rect x="945" y="816" width="7" height="6" fill="#f04d52"/>
<rect x="954" y="816" width="7" height="4" fill="#fbc8cf"/>
<rect x="962" y="816" width="7" height="3" fill="#fbc8cf"/>
<rect x="971" y="816" width="7" height="1" fill="#fbc8cf"/>
<rect x="979" y="814" width="7" height="2" fill="#26a69a"/>
<rect x="988" y="813" width="7" height="3" fill="#26a69a"/>
<rect x="996" y="812" width="7" height="4" fill="#26a69a"/>
<rect x="1004" y="813" width="7" height="3" fill="#b2dfdb"/>
</g>
<line x1="3" y1="816" x2="1010" y2="816" stroke="#5db761" stroke-width="2"/>
<line x1="772.5" y1="816" x2="845" y2="816" stroke="#f26d6d" stroke-width="2"/>
<polyline points="3.0,770.0 46.2,773.9 92.4,777.0 130.9,780.8 154.0,786.2 184.8,790.8 215.6,789.3 234.0,789.6 261.8,793.9 292.6,799.4 323.4,803.7 350.0,806.2 382.5,802.3 415.0,795.8 447.5,788.6 480.0,784.4 512.5,783.4 545.0,783.4 577.6,790.9 597.0,793.5 629.6,795.1 655.6,790.9 675.1,786.7 694.6,784.4 707.6,785.4 734.2,790.8 751.3,794.2 768.4,800.4 785.5,807.9 802.7,816.5 819.8,822.3 836.9,823.3 854.0,819.9 877.9,813.0 905.3,807.9 922.4,807.2 939.5,809.6 960.0,811.3 980.6,810.6 1008.0,807.9" fill="none" stroke="#8d5a44" stroke-width="1"/>
<polyline points="3.0,770.0 30.8,773.0 61.6,776.2 92.4,778.5 130.9,783.9 138.6,790.0 155.5,794.6 172.5,794.5 184.8,792.3 200.2,790.2 215.6,788.3 227.9,789.3 240.2,793.3 258.7,800.0 277.2,803.1 295.7,803.7 308.0,805.6 320.3,809.3 332.6,808.7 345.0,807.7 350.0,805.5 366.3,803.9 382.5,799.0 398.8,792.5 415.0,787.6 434.5,781.1 444.3,780.2 463.8,782.8 496.3,782.8 519.0,783.4 543.4,783.4 553.2,789.9 571.0,795.1 590.6,798.4 610.0,796.4 629.6,796.4 642.6,792.5 662.1,781.1 684.9,780.2 697.9,785.4 707.6,789.3 720.6,796.7 744.5,799.4 768.4,811.3 785.5,823.3 802.7,834.6 819.8,825.0 836.9,819.9 854.0,814.7 881.4,806.2 912.1,802.8 929.3,809.6 949.8,815.4 970.3,811.3 990.8,806.2 1008.0,804.5" fill="none" stroke="#4a73e0" stroke-width="1"/>
<text x="12.0" y="782.8" font-size="12.2" fill="#131722" textLength="198.0" lengthAdjust="spacingAndGlyphs">My_MACD% 12 26 close 9 EMA EMA</text>
<text x="218.0" y="782.8" font-size="12.2" fill="#a8d8d4" textLength="24.5" lengthAdjust="spacingAndGlyphs">0,15</text>
<text x="248.8" y="782.8" font-size="12.2" fill="#3a6ee0" textLength="24.5" lengthAdjust="spacingAndGlyphs">0,49</text>
<text x="279.6" y="782.8" font-size="12.2" fill="#6d4c41" textLength="24.5" lengthAdjust="spacingAndGlyphs">0,34</text>
<text x="311.0" y="782.8" font-size="12.2" fill="#4caf50" textLength="25.0" lengthAdjust="spacingAndGlyphs">0,00</text>
<path d="M15 813 h13.5 v15 h-7 v-9 h-6.5 Z" fill="#000"/>
<circle cx="32.5" cy="816" r="3" fill="#000"/>
<path d="M38 813 h7 l-7 15 h-7.5 Z" fill="#000"/>
<circle cx="20.8" cy="60.8" r="9" fill="#1e4f94"/>
<text x="20.7" y="64.2" font-size="9.5" fill="#fff" stroke="#fff" stroke-width="0.25" text-anchor="middle" letter-spacing="-0.6">100</text>
<text x="34.5" y="66.8" font-size="15" fill="#131722" textLength="266.5" lengthAdjust="spacingAndGlyphs">Futures NASDAQ 100 E-MINI · 1D · CME</text>
<rect x="309.5" y="52.5" width="39" height="17.5" rx="8.75" fill="#fdf1e0"/>
<path d="M318 52.5 h11 v17.5 h-11 a8.75 8.75 0 0 1 0 -17.5 Z" fill="#dbf0ec"/>
<circle cx="320.4" cy="61.2" r="2.8" fill="#26a69a"/>
<text x="337.6" y="66" font-size="13" fill="#f49d38" text-anchor="middle">D</text>
<text x="357.3" y="66" font-size="13" fill="#131722" textLength="50.0" lengthAdjust="spacingAndGlyphs">O - Aper.</text>
<text x="409.0" y="66" font-size="13" fill="#e05a5a" textLength="57.0" lengthAdjust="spacingAndGlyphs">25.863,25</text>
<text x="472.4" y="66" font-size="13" fill="#131722" textLength="47.5" lengthAdjust="spacingAndGlyphs">H - Max.</text>
<text x="522.0" y="66" font-size="13" fill="#e05a5a" textLength="57.0" lengthAdjust="spacingAndGlyphs">25.893,75</text>
<text x="584.6" y="66" font-size="13" fill="#131722" textLength="43.0" lengthAdjust="spacingAndGlyphs">L - Min.</text>
<text x="629.8" y="66" font-size="13" fill="#e05a5a" textLength="57.0" lengthAdjust="spacingAndGlyphs">25.656,75</text>
<text x="693.0" y="66" font-size="13" fill="#131722" textLength="55.0" lengthAdjust="spacingAndGlyphs">C - Chius.</text>
<text x="750.2" y="66" font-size="13" fill="#e05a5a" textLength="57.0" lengthAdjust="spacingAndGlyphs">25.748,50</text>
<text x="813.5" y="66" font-size="13" fill="#e05a5a" textLength="45.5" lengthAdjust="spacingAndGlyphs">−114,75</text>
<text x="864.0" y="66" font-size="13" fill="#e05a5a" textLength="48.5" lengthAdjust="spacingAndGlyphs">(−0,44%)</text>
<rect x="11.5" y="77.5" width="79" height="33" rx="4" fill="#fff" stroke="#e0606c"/>
<text x="23" y="91" font-size="13" fill="#e0404a" stroke="#e0404a" stroke-width="0.35" textLength="56" lengthAdjust="spacingAndGlyphs">25.748,25</text>
<text x="35.8" y="104.8" font-size="11" fill="#e0404a" textLength="29" lengthAdjust="spacingAndGlyphs">VENDI</text>
<text x="98.8" y="97.5" font-size="11" fill="#131722" textLength="19.5" lengthAdjust="spacingAndGlyphs">0,50</text>
<rect x="126.5" y="77.5" width="79" height="33" rx="4" fill="#fff" stroke="#4c6fe0"/>
<text x="137.8" y="91" font-size="13" fill="#3660d8" stroke="#3660d8" stroke-width="0.35" textLength="56" lengthAdjust="spacingAndGlyphs">25.748,75</text>
<text x="145.5" y="104.8" font-size="11" fill="#3660d8" textLength="42.3" lengthAdjust="spacingAndGlyphs">COMPRA</text>
<rect x="1097" y="45" width="72" height="797" fill="#ffffff"/>
<line x1="1096.5" y1="45" x2="1096.5" y2="868" stroke="#e0e3eb"/>
<line x1="3" y1="842.5" x2="1169" y2="842.5" stroke="#e0e3eb"/>
<line x1="1096" y1="683.5" x2="1169" y2="683.5" stroke="#2d3e8c" stroke-width="1.2"/>
<line x1="1096" y1="761.5" x2="1169" y2="761.5" stroke="#2d3e8c" stroke-width="1.2"/>
<rect x="1101" y="50" width="62" height="24" rx="4" fill="#fff" stroke="#e0e3eb"/>
<text x="1104.5" y="66" font-size="12" fill="#131722" textLength="20.5" lengthAdjust="spacingAndGlyphs">USD</text>
<path d="M1153.3 60.8 l2.4 2.4 l2.4 -2.4" fill="none" stroke="#131722" stroke-width="1.3"/>
<text x="1105" y="119.3" font-size="12" fill="#131722" textLength="52" lengthAdjust="spacingAndGlyphs">26.800,00</text>
<text x="1105" y="163.3" font-size="12" fill="#131722" textLength="52" lengthAdjust="spacingAndGlyphs">26.400,00</text>
<text x="1105" y="207.3" font-size="12" fill="#131722" textLength="52" lengthAdjust="spacingAndGlyphs">26.000,00</text>
<text x="1105" y="295.3" font-size="12" fill="#131722" textLength="52" lengthAdjust="spacingAndGlyphs">25.200,00</text>
<text x="1105" y="339.3" font-size="12" fill="#131722" textLength="52" lengthAdjust="spacingAndGlyphs">24.800,00</text>
<text x="1105" y="383.3" font-size="12" fill="#131722" textLength="52" lengthAdjust="spacingAndGlyphs">24.400,00</text>
<text x="1105" y="427.3" font-size="12" fill="#131722" textLength="52" lengthAdjust="spacingAndGlyphs">24.000,00</text>
<text x="1105" y="471.3" font-size="12" fill="#131722" textLength="52" lengthAdjust="spacingAndGlyphs">23.600,00</text>
<text x="1105" y="515.3" font-size="12" fill="#131722" textLength="52" lengthAdjust="spacingAndGlyphs">23.200,00</text>
<text x="1105" y="559.3" font-size="12" fill="#131722" textLength="52" lengthAdjust="spacingAndGlyphs">22.800,00</text>
<text x="1105" y="603.3" font-size="12" fill="#131722" textLength="52" lengthAdjust="spacingAndGlyphs">22.400,00</text>
<text x="1105" y="647.3" font-size="12" fill="#131722" textLength="52" lengthAdjust="spacingAndGlyphs">22.000,00</text>
<rect x="1097" y="224" width="66" height="30" rx="2" fill="#ef5350"/>
<text x="1104" y="236" font-size="12" font-weight="bold" fill="#fff">25.748,50</text>
<text x="1104" y="250" font-size="12" fill="#fff">07:13:56</text>
<text x="1105" y="697.5" font-size="12" fill="#131722" textLength="30.0" lengthAdjust="spacingAndGlyphs">75,00</text>
<text x="1105" y="756.0" font-size="12" fill="#131722" textLength="30.0" lengthAdjust="spacingAndGlyphs">25,00</text>
<text x="1105" y="772.5" font-size="12" fill="#131722" textLength="24.0" lengthAdjust="spacingAndGlyphs">2,00</text>
<text x="1105" y="819.5" font-size="12" fill="#131722" textLength="24.0" lengthAdjust="spacingAndGlyphs">0,00</text>
<text x="139.4" y="860" font-size="12" fill="#131722" text-anchor="middle" >Ago</text>
<text x="316.4" y="860" font-size="12" fill="#131722" text-anchor="middle" >Set</text>
<text x="493.5" y="860" font-size="12" fill="#131722" text-anchor="middle" >Ott</text>
<text x="687.4" y="860" font-size="12" fill="#131722" text-anchor="middle" >Nov</text>
<text x="847.5" y="860" font-size="12" fill="#131722" text-anchor="middle" >Dic</text>
<text x="1033.0" y="860" font-size="12" fill="#131722" text-anchor="middle" font-weight="bold">2026</text>
<polygon points="1139.0,855.7 1135.5,861.8 1128.5,861.8 1125.0,855.7 1128.5,849.6 1135.5,849.6" fill="none" stroke="#131722" stroke-width="1.2"/>
<circle cx="1132.0" cy="855.7" r="2.3" fill="none" stroke="#131722" stroke-width="1.2"/>
</svg></body></html>
